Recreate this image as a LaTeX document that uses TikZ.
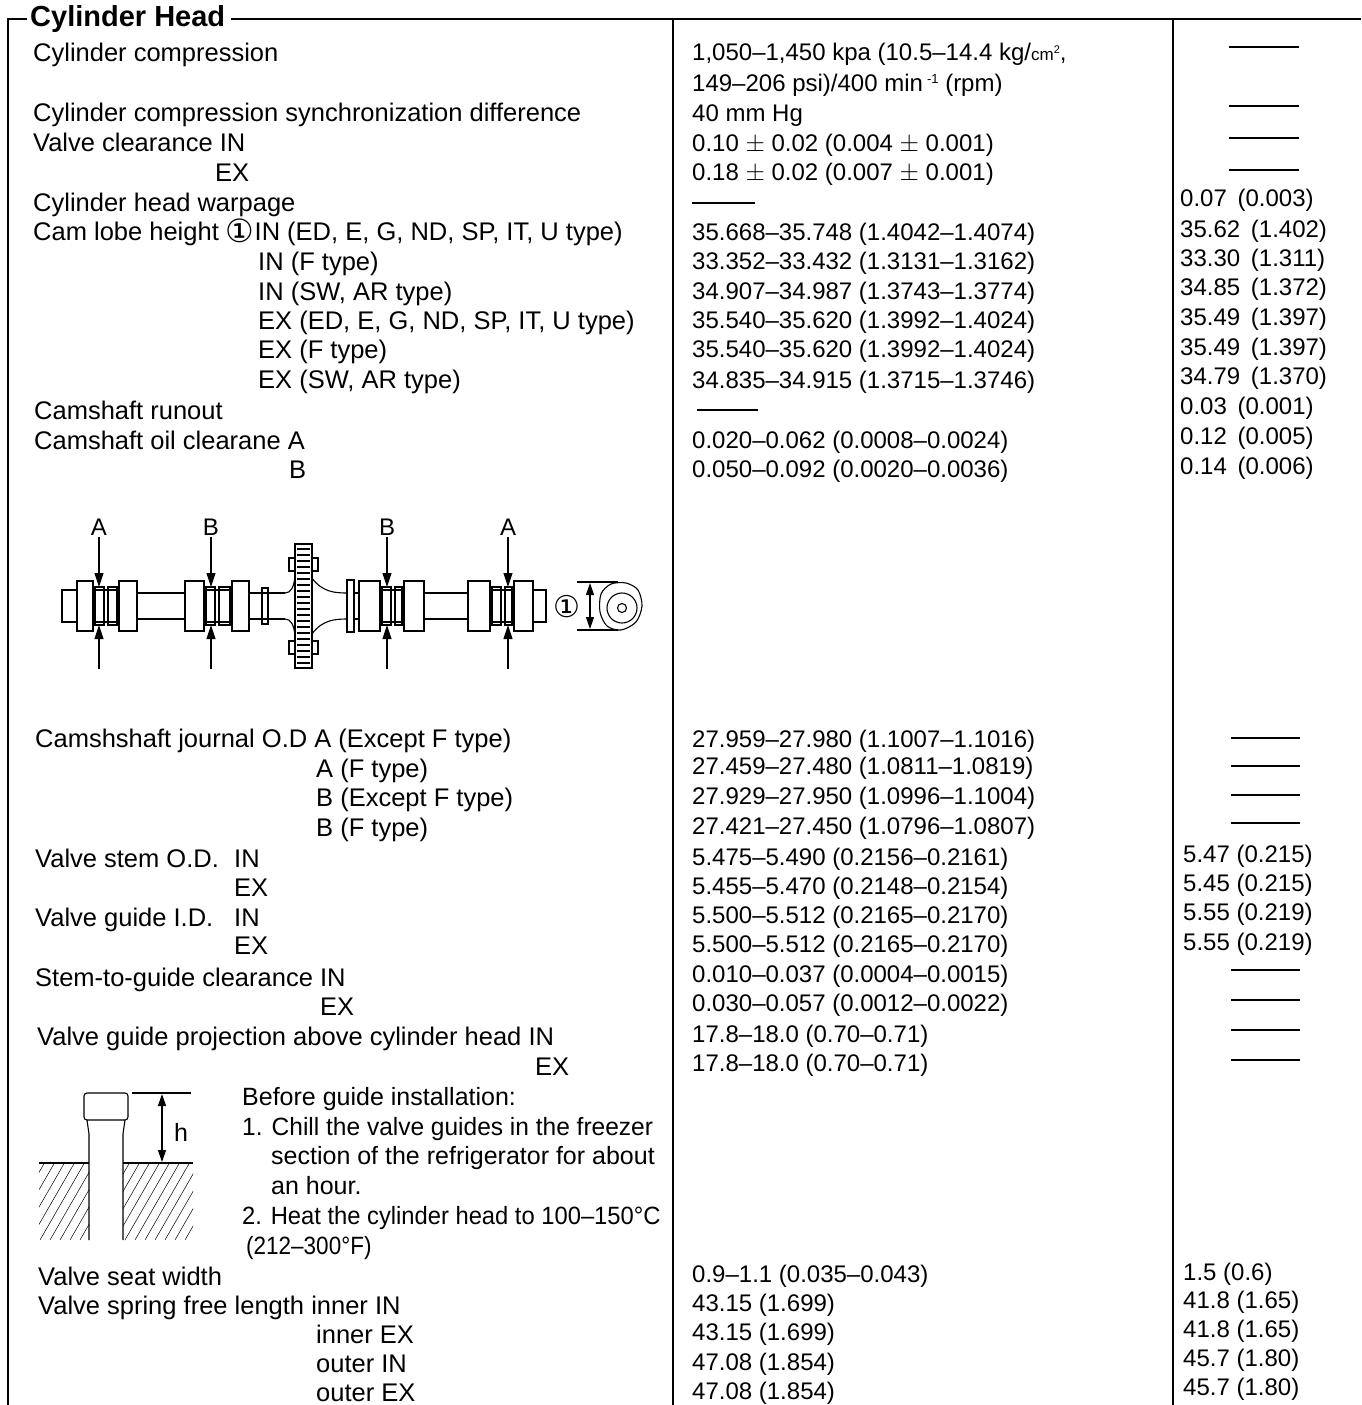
\documentclass[tikz,border=0pt]{standalone}
\usepackage{fontspec}
\setmainfont{Liberation Sans}
\newfontfamily\circfont{DejaVu Sans}
\usetikzlibrary{arrows.meta}
\tikzset{
  lbl/.style={anchor=base west, inner sep=0pt, font=\fontsize{25.5}{25.5}\selectfont},
  note/.style={anchor=base west, inner sep=0pt, font=\fontsize{25}{25}\selectfont},
  val/.style={anchor=base west, inner sep=0pt, font=\fontsize{24}{24}\selectfont},
  frame/.style={line width=1.8pt},
  nil/.style={line width=1.4pt},
  part/.style={line width=1.1pt},
  ptr/.style={line width=1.1pt, -{Triangle[length=14pt,width=9pt]}},
  dimarrow/.style={line width=1.1pt, {Triangle[length=12pt,width=8pt]}-{Triangle[length=12pt,width=8pt]}},
}
\newcommand{\circone}[1][32]{{\circfont\fontsize{#1}{#1}\selectfont ①}}
\begin{document}
\begin{tikzpicture}[x=1pt,y=-1pt]
\useasboundingbox (0,0) rectangle (1361,1405);
% frame and columns
\node [anchor=west, inner sep=0pt, font=\bfseries\fontsize{29}{29}\selectfont] (title) at (30,19) {Cylinder Head};
\draw [frame] ([xshift=-3pt]title.west) -| (8,1405);
\draw [frame] ([xshift=6pt]title.east) -- (1361,19);
\draw [frame] (673,19) -- (673,1405);
\draw [frame] (1173,19) -- (1173,1405);

% first block
\node [lbl] (cc) at (33,62) {Cylinder compression};
\node [lbl] (ccs) at (33,121) {Cylinder compression synchronization difference};
\node [lbl] (vc) at (33,151) {Valve clearance IN};
\node [lbl] (vcex) at (215,181) {EX};
\node [lbl] (hw) at (33,211) {Cylinder head warpage};
\node [lbl] (clh) at (33,240) {Cam lobe height \raisebox{-2pt}{\circone}IN (ED, E, G, ND, SP, IT, U type)};
\node [lbl] (clh2) at (258,270) {IN (F type)};
\node [lbl] (clh3) at (258,300) {IN (SW, AR type)};
\node [lbl] (clh4) at (258,329) {EX (ED, E, G, ND, SP, IT, U type)};
\node [lbl] (clh5) at (258,358) {EX (F type)};
\node [lbl] (clh6) at (258,388) {EX (SW, AR type)};
\node [lbl] (cr) at (34,419) {Camshaft runout};
\node [lbl] (coc) at (34,449) {Camshaft oil clearane A};
\node [lbl] (cocb) at (289,478) {B};

\node [val] (ccv) at (692,61) {1,050--1,450 kpa (10.5--14.4 kg/{\fontsize{17}{17}\selectfont cm}\raisebox{7pt}{\fontsize{11}{11}\selectfont 2},};
\node [val] (ccv2) at (692,91) {149--206 psi)/400 min\,\raisebox{8pt}{\fontsize{13}{13}\selectfont -1} (rpm)};
\node [val] (ccsv) at (692,121) {40 mm Hg};
\node [val] (vcv) at (692,151) {0.10 $\pm$ 0.02 (0.004 $\pm$ 0.001)};
\node [val] (vcexv) at (692,180) {0.18 $\pm$ 0.02 (0.007 $\pm$ 0.001)};
\draw [nil] (692,203) -- (755,203);
\node [val] (clhv) at (692,240) {35.668--35.748 (1.4042--1.4074)};
\node [val] (clh2v) at (692,269) {33.352--33.432 (1.3131--1.3162)};
\node [val] (clh3v) at (692,299) {34.907--34.987 (1.3743--1.3774)};
\node [val] (clh4v) at (692,328) {35.540--35.620 (1.3992--1.4024)};
\node [val] (clh5v) at (692,357) {35.540--35.620 (1.3992--1.4024)};
\node [val] (clh6v) at (692,388) {34.835--34.915 (1.3715--1.3746)};
\draw [nil] (697,410) -- (758,410);
\node [val] (cocv) at (692,448) {0.020--0.062 (0.0008--0.0024)};
\node [val] (cocbv) at (692,477) {0.050--0.092 (0.0020--0.0036)};

\draw [nil] (1229,47) -- (1299,47);
\draw [nil] (1229,106) -- (1299,106);
\draw [nil] (1229,138) -- (1299,138);
\draw [nil] (1229,170) -- (1299,170);
\node [val] (hwl) at (1180,206) {0.07 \,(0.003)};
\node [val] (clhl) at (1180,237) {35.62 \,(1.402)};
\node [val] (clh2l) at (1180,266) {33.30 \,(1.311)};
\node [val] (clh3l) at (1180,295) {34.85 \,(1.372)};
\node [val] (clh4l) at (1180,325) {35.49 \,(1.397)};
\node [val] (clh5l) at (1180,355) {35.49 \,(1.397)};
\node [val] (clh6l) at (1180,384) {34.79 \,(1.370)};
\node [val] (crl) at (1180,414) {0.03 \,(0.001)};
\node [val] (cocl) at (1180,444) {0.12 \,(0.005)};
\node [val] (cocbl) at (1180,474) {0.14 \,(0.006)};

% camshaft
\begin{scope}[part]
\foreach \a/\b/\h in {62/77/16, 77/93/25, 119/137/25, 185/204/25, 232/249/25, 347/354/26,
                      359/380/25, 404/424/25, 468/490/25, 514/533/25, 533/546/16}
  \draw (\a,606-\h) rectangle (\b,606+\h);
\foreach \a/\b in {93/119, 204/232, 380/404, 490/514} {
  \draw (\a,590) -- (\b,590) (\a,622) -- (\b,622);
  \draw (\a+2,587) rectangle (\a+11,625);
  \draw (\a+15,587) rectangle (\b-2,625);
}
\draw (137,593) -- (185,593) (137,619) -- (185,619);
\draw (249,593) -- (285,593) (249,619) -- (285,619);
\draw (262,588) rectangle (268,624);
\draw (424,593) -- (468,593) (424,619) -- (468,619);
\draw (354,593) -- (359,593) (354,619) -- (359,619);
\draw (285,593) .. controls (291,593) and (294,587) .. (295,576);
\draw (285,619) .. controls (291,619) and (294,625) .. (295,636);
\draw (312,578) .. controls (322,592) and (335,593) .. (347,593);
\draw (312,634) .. controls (322,620) and (335,619) .. (347,619);
\draw (295,544) rectangle (312,668);
\foreach \y in {549,555,...,663} \draw (297,\y) -- (310,\y);
\draw (289,558) rectangle (295,571);
\draw (289,641) rectangle (295,654);
\draw (312,558) rectangle (318,571);
\draw (312,641) rectangle (318,654);
\end{scope}
\foreach \n/\t/\x in {ja1/A/99, jb1/B/211, jb2/B/387, ja2/A/508} {
  \node [font=\fontsize{24}{24}\selectfont, inner sep=2pt] (\n) at (\x,527) {\t};
  \coordinate (\n top) at (\x,587);
  \coordinate (\n bot) at (\x,625);
  \coordinate (\n end) at (\x,669);
  \draw [ptr] (\n) -- (\n top);
  \draw [ptr] (\n end) -- (\n bot);
}
% cam lobe end view
\node [inner sep=0pt] (lobe) at (567,607) {\circone[30]};
\draw [part] (577,582) -- (618,582);
\draw [part] (577,630) -- (618,630);
\draw [dimarrow] (590,583) -- (590,629);
\draw [part] plot [smooth cycle] coordinates {(601,594) (611,584) (626,583) (638,590) (642,606) (636,622) (621,630) (607,626) (600,612)};
\draw [part] (622,608) circle (15);
\draw [part] (622,608) circle (4.5);

% second block
\node [lbl] (cj) at (35,747) {Camshshaft journal O.D A (Except F type)};
\node [lbl] (cj2) at (316,777) {A (F type)};
\node [lbl] (cj3) at (316,806) {B (Except F type)};
\node [lbl] (cj4) at (316,836) {B (F type)};
\node [lbl] (vs) at (35,867) {Valve stem O.D.};
\node [lbl] (vsin) at (234,867) {IN};
\node [lbl] (vsex) at (234,896) {EX};
\node [lbl] (vg) at (35,926) {Valve guide I.D.};
\node [lbl] (vgin) at (234,926) {IN};
\node [lbl] (vgex) at (234,954) {EX};
\node [lbl] (sg) at (35,986) {Stem-to-guide clearance IN};
\node [lbl] (sgex) at (320,1015) {EX};
\node [lbl] (gp) at (37,1045) {Valve guide projection above cylinder head IN};
\node [lbl] (gpex) at (535,1075) {EX};

\node [val] (cjv) at (692,747) {27.959--27.980 (1.1007--1.1016)};
\node [val] (cj2v) at (692,774) {27.459--27.480 (1.0811--1.0819)};
\node [val] (cj3v) at (692,804) {27.929--27.950 (1.0996--1.1004)};
\node [val] (cj4v) at (692,834) {27.421--27.450 (1.0796--1.0807)};
\node [val] (vsv) at (692,865) {5.475--5.490 (0.2156--0.2161)};
\node [val] (vsexv) at (692,894) {5.455--5.470 (0.2148--0.2154)};
\node [val] (vgv) at (692,923) {5.500--5.512 (0.2165--0.2170)};
\node [val] (vgexv) at (692,952) {5.500--5.512 (0.2165--0.2170)};
\node [val] (sgv) at (692,982) {0.010--0.037 (0.0004--0.0015)};
\node [val] (sgexv) at (692,1011) {0.030--0.057 (0.0012--0.0022)};
\node [val] (gpv) at (692,1042) {17.8--18.0 (0.70--0.71)};
\node [val] (gpexv) at (692,1071) {17.8--18.0 (0.70--0.71)};

\foreach \y in {738,766,795,823,970,1000,1030,1060}
  \draw [nil] (1231,\y) -- (1300,\y);
\node [val] (vsl) at (1183,862) {5.47 (0.215)};
\node [val] (vsexl) at (1183,891) {5.45 (0.215)};
\node [val] (vgl) at (1183,920) {5.55 (0.219)};
\node [val] (vgexl) at (1183,950) {5.55 (0.219)};

% valve guide sketch
\draw [part, rounded corners=3pt] (84,1093) rectangle (128,1120);
\draw [part] (87,1120) -- (89,1134) -- (89,1240);
\draw [part] (125,1120) -- (123,1134) -- (123,1240);
\draw [part] (39,1163) -- (89,1163);
\draw [part] (123,1163) -- (193,1163);
\begin{scope}
\clip (39,1163) rectangle (89,1240);
\foreach \i in {0,...,9} \draw [line width=0.5pt] (-10+\i*10,1240) -- ++(45,-78);
\end{scope}
\begin{scope}
\clip (123,1163) rectangle (193,1240);
\foreach \i in {0,...,12} \draw [line width=0.5pt] (75+\i*10,1240) -- ++(45,-78);
\end{scope}
\draw [part] (132,1093) -- (191,1093);
\draw [dimarrow] (162,1094) -- (162,1162);
\node [font=\fontsize{25}{25}\selectfont] (hgt) at (181,1132) {h};

\node [note] (nt0) at (242,1105) {Before guide installation:};
\node [note] (nt1) at (242,1135) {\scalebox{0.98}[1]{1. Chill the valve guides in the freezer}};
\node [note] (nt2) at (271,1164) {section of the refrigerator for about};
\node [note] (nt3) at (271,1194) {an hour.};
\node [note] (nt4) at (242,1224) {\scalebox{0.95}[1]{2. Heat the cylinder head to 100--150\textdegree C}};
\node [note] (nt5) at (246,1254) {\scalebox{0.9}[1]{(212--300\textdegree F)}};

% third block
\node [lbl] (sw) at (38,1285) {Valve seat width};
\node [lbl] (sl) at (38,1314) {Valve spring free length inner IN};
\node [lbl] (sl2) at (316,1343) {inner EX};
\node [lbl] (sl3) at (316,1372) {outer IN};
\node [lbl] (sl4) at (316,1401) {outer EX};

\node [val] (swv) at (692,1282) {0.9--1.1 (0.035--0.043)};
\node [val] (slv) at (692,1311) {43.15 (1.699)};
\node [val] (sl2v) at (692,1340) {43.15 (1.699)};
\node [val] (sl3v) at (692,1370) {47.08 (1.854)};
\node [val] (sl4v) at (692,1399) {47.08 (1.854)};

\node [val] (swl) at (1183,1280) {1.5 (0.6)};
\node [val] (sll) at (1183,1308) {41.8 (1.65)};
\node [val] (sl2l) at (1183,1337) {41.8 (1.65)};
\node [val] (sl3l) at (1183,1366) {45.7 (1.80)};
\node [val] (sl4l) at (1183,1395) {45.7 (1.80)};
\end{tikzpicture}
\end{document}
